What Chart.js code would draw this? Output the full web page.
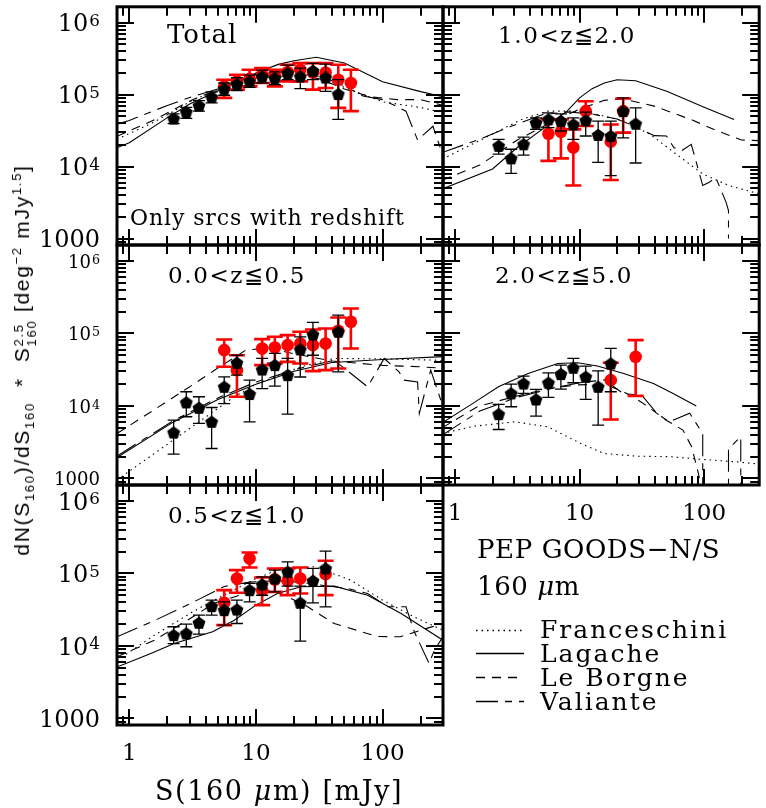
<!DOCTYPE html>
<html>
<head>
<meta charset="utf-8">
<script src="https://cdn.jsdelivr.net/npm/chart.js@4.4.1/dist/chart.umd.min.js"></script>
<style>
  body { margin: 0; background: #fff; }
  #wrap { position: relative; width: 766px; height: 808px; overflow: hidden; background: #fff; }
  #wrap canvas { position: absolute; left: 0; top: 0; }
  .t { position: absolute; white-space: nowrap; font-family: "DejaVu Serif", serif; color: #000; line-height: 1; }
  #ytitle { position: absolute; left: 24px; top: 360px; white-space: nowrap; font-family: "Liberation Sans", Arial, sans-serif;
            font-size: 21px; letter-spacing: 1.7px; line-height: 1; transform: translate(-50%, -50%) rotate(-90deg); }
  #ytitle sub, #ytitle sup { font-size: 13px; }
  .stk { display: inline-flex; flex-direction: column; font-size: 13px; line-height: 13px; vertical-align: 6px; }
</style>
</head>
<body>
<div id="wrap">
  <div class="t" style="font-size:26px;letter-spacing:1px;left:167px;top:21px">Total</div>
  <div class="t" style="font-size:23px;letter-spacing:1.6px;left:498px;top:24px">1.0&lt;z≦2.0</div>
  <div class="t" style="font-size:23px;letter-spacing:1.6px;left:168px;top:264px">0.0&lt;z≦0.5</div>
  <div class="t" style="font-size:23px;letter-spacing:1.6px;left:495px;top:264px">2.0&lt;z≦5.0</div>
  <div class="t" style="font-size:23px;letter-spacing:1.6px;left:168px;top:504px">0.5&lt;z≦1.0</div>
  <div class="t" style="font-size:22px;letter-spacing:0.9px;left:130px;top:207px">Only srcs with redshift</div>
  <div class="t" style="font-size:26px;letter-spacing:0.6px;left:477px;top:536px">PEP GOODS−N/S</div>
  <div class="t" style="font-size:26px;letter-spacing:0.6px;left:477px;top:573px">160 <i>μ</i>m</div>
  <div class="t" style="font-size:25px;letter-spacing:2px;left:540px;top:617px">Franceschini</div>
  <div class="t" style="font-size:25px;letter-spacing:2px;left:540px;top:641px">Lagache</div>
  <div class="t" style="font-size:25px;letter-spacing:2px;left:540px;top:665px">Le Borgne</div>
  <div class="t" style="font-size:25px;letter-spacing:2px;left:540px;top:689px">Valiante</div>
  <div class="t" style="font-size:27px;letter-spacing:1.6px;left:155px;top:777px">S(160 <i>μ</i>m) [mJy]</div>
  <div id="ytitle">dN(S<sub>160</sub>)/dS<sub>160</sub>&nbsp; *&nbsp; S<span class="stk"><span>2.5</span><span>160</span></span> [deg<sup>−2</sup> mJy<sup>1.5</sup>]</div>
</div>
<script>
// flux bins shared by all panels [mJy]
const fluxBins = [2.24, 2.82, 3.55, 4.47, 5.62, 7.08, 8.91, 11.2, 14.1, 17.8, 22.4, 28.2, 35.5, 44.7, 56.2];

// ---- Total ----
const totBlk   = [46600, 57400, 70300, 92500, 120500, 139600, 152100, 178200, 169000, 198200, 178200, 213800, 172600, 101600, null];
const totBlkHi = [54100, 66500, 82600, 108900, 144900, 171400, 186600, 218800, 207500, 256400, 233300, 272300, 264900, 161100, null];
const totBlkLo = [39400, 46600, 58900, 76700, 97900, 113500, 126200, 144900, 137400, 161100, 121100, 161100, 111200, 45200, null];
const totRed   = [null, null, null, null, 130300, 152800, 166300, 188800, 184800, 205600, 221300, 203300, 203300, 161100, 144900];
const totRedHi = [null, null, null, null, 161100, 188800, 221300, 233300, 221300, 259400, 273500, 273500, 273500, 259400, 221300];
const totRedLo = [null, null, null, null, 90000, 117200, 130300, 144900, 130300, 152800, 152800, 117200, 123600, 65500, 58900];

// ---- 1.0<z<=2.0 ----
const z12Blk   = [19400, 13000, 20400, 40600, 45200, 42900, 38500, 43800, 27500, 26600, 58900, 39400, null, null, null];
const z12BlkHi = [23900, 17400, 25700, 47600, 55800, 54100, 47600, 57000, 42900, 42900, 90000, 65500, null, null, null];
const z12BlkLo = [14900, 8050, 14400, 32900, 34700, 31200, 23900, 26600, 11400, 7480, 25100, 11200, null, null, null];
const z12Red   = [null, null, null, null, 28600, 30500, 18400, 58900, null, 22200, 58900, null, null, null, null];
const z12RedHi = [null, null, null, null, 45200, 45200, 32900, 80900, null, 38500, 88100, null, null, null, null];
const z12RedLo = [null, null, null, null, 12000, 13000, 5450, 36600, null, 6520, 29600, null, null, null, null];

// ---- 0.0<z<=0.5 ----
const z05Blk   = [4310, 11200, 9440, 6050, 18400, 39400, 14600, 31800, 36600, 26600, 60100, 96800, null, 105400, null];
const z05BlkHi = [6380, 15700, 13400, 9530, 25200, 50100, 22700, 45200, 53000, 45200, 90000, 141900, null, 179100, null];
const z05BlkLo = [2170, 7100, 5740, 2590, 10800, 26600, 6050, 17400, 18800, 7710, 25100, 50100, null, 29600, null];
const z05Red   = [null, null, null, null, 58900, 31200, null, 62100, 64100, 69000, 72800, 69000, 72800, 108900, 144900];
const z05RedHi = [null, null, null, null, 82600, 50100, null, 83600, 90000, 94800, 105400, 113500, 117200, 166000, 221300];
const z05RedLo = [null, null, null, null, 34700, 13400, null, 36600, 38500, 40600, 38500, 30200, 31200, 32900, 62100];

// ---- 2.0<z<=5.0 ----
const z25Blk   = [7710, 14900, 20400, 12300, 20900, 27500, 33600, 25200, 18400, 38500, null, null, null, null, null];
const z25BlkHi = [10500, 20000, 25800, 16900, 28600, 36600, 45200, 35400, 30500, 62100, null, null, null, null, null];
const z25BlkLo = [4740, 9750, 14900, 7240, 13100, 17100, 20900, 12300, 5450, 15700, null, null, null, null, null];
const z25Red   = [null, null, null, null, null, null, null, null, null, 22700, null, 47600, null, null, null];
const z25RedHi = [null, null, null, null, null, null, null, null, null, 39400, null, 80900, null, null, null];
const z25RedLo = [null, null, null, null, null, null, null, null, null, 6520, null, 13800, null, null, null];

// ---- 0.5<z<=1.0 ----
const z51Blk   = [14100, 14900, 20900, 35400, 31200, 31800, 58900, 70500, 85300, 105400, 39400, 79300, 117200, null, null];
const z51BlkHi = [18400, 20000, 26600, 42900, 40600, 42900, 72800, 90000, 111200, 144900, 66800, 117200, 203300, null, null];
const z51BlkLo = [10800, 9750, 14600, 26600, 19400, 20400, 40600, 50100, 55800, 66800, 11700, 39400, 34700, null, null];
const z51Red   = [null, null, null, null, 39400, 85300, 161100, 58900, 82600, 79300, 85300, null, 97900, null, null];
const z51RedHi = [null, null, null, null, 58900, 111200, 195000, 88100, 117200, 117200, 121100, null, 149600, null, null];
const z51RedLo = [null, null, null, null, 19400, 54100, 121100, 36600, 55800, 50200, 53000, null, 50200, null, null];

// ---- model curves (x in mJy, y in counts) ----
const totFranX = [0.8, 1.58, 3.16, 6.31, 10, 20, 31.6, 50, 100, 200, 300];
const totFranY = [24000, 41700, 83200, 141000, 178000, 200000, 178000, 126000, 79400, 66100, 56200];
const totLagX  = [0.8, 1, 2, 3, 5, 10, 15, 20, 30, 50, 100, 200, 300];
const totLagY  = [18200, 21400, 47900, 74100, 112000, 200000, 263000, 295000, 331000, 275000, 151000, 110000, 93300];
const totLebX  = [0.8, 1.58, 3.16, 6.31, 10, 20, 31.6, 50, 80, 130, 200, 300];
const totLebY  = [26300, 44700, 85100, 138000, 170000, 186000, 166000, 120000, 93300, 85100, 85100, 70800];
const totValX  = [0.8, 1, 2, 3, 5, 10, 20, 30, 50, 70, 100, 153, 189, 250, 300];
const totValY  = [38900, 43700, 70800, 91200, 120000, 191000, 214000, 191000, 132000, 95500, 85100, 58900, 23400, 36300, 14100];

const z12FranX = [0.79, 1.98, 3.42, 5.57, 8.51, 13.9, 22.6, 36.8, 60, 97.5, 158, 277];
const z12FranY = [12700, 28100, 45200, 58900, 58900, 53000, 42900, 28100, 14800, 7890, 5450, 4170];
const z12LagX  = [0.79, 2.0, 3.16, 5.01, 7.94, 10, 12.6, 15.8, 20, 28.2, 50.1, 100, 174];
const z12LagY  = [4900, 9250, 18400, 32900, 58900, 90000, 121000, 145000, 161000, 156000, 111000, 66800, 45200];
const z12LebX  = [0.79, 1.58, 3.16, 6.31, 10, 15.8, 22.4, 39.8, 79.4, 126, 200, 277];
const z12LebY  = [6460, 10500, 23400, 43700, 63100, 83200, 87100, 69200, 44700, 31600, 23400, 22900];
const z12ValX  = [0.79, 1.58, 2.82, 5.01, 7.94, 12.6, 20, 28.2, 39.8, 49.9, 57.1, 65.6, 78.9, 97.5, 110, 124, 150, 157, 157];
const z12ValY  = [15700, 24000, 36300, 52500, 57500, 53700, 45700, 35500, 26900, 26600, 18400, 16500, 20400, 5450, 6050, 7080, 3210, 2450, 1000];

const z05FranX = [0.8, 3.68, 6.76, 10, 22.6, 41.5, 100, 257, 300];
const z05FranY = [955, 6310, 13400, 20000, 34700, 45200, 44700, 42900, 41700];
const z05LagX  = [0.8, 2.24, 5.01, 10, 20, 39.8, 100, 300];
const z05LagY  = [1950, 6030, 12300, 20000, 30200, 39800, 43700, 47900];
const z05LebX  = [0.8, 1.58, 3.16, 4.68, 8.32, 12.6, 20, 39.8, 100, 200, 300];
const z05LebY  = [4170, 8910, 19500, 30900, 58900, 63100, 52500, 41700, 36300, 34700, 33100];
const z05ValX  = [0.8, 2.24, 5.01, 10, 20, 41.5, 76.2, 103, 135, 148, 189, 195, 240, 300];
const z05ValY  = [2040, 6310, 12900, 21400, 31600, 42700, 18400, 45200, 29500, 22700, 21500, 7890, 31200, 9770];

const z25FranX = [0.79, 1.41, 3.02, 5.57, 10.2, 15.7, 28.8, 53.1, 97.5, 179, 277];
const z25FranY = [4180, 5250, 6050, 5160, 3040, 2210, 2030, 2000, 1830, 1700, 1580];
const z25LagX  = [0.79, 1.37, 2.23, 3.86, 6.68, 9.64, 13.9, 22.6, 39.2, 56.4, 86.5];
const z25LagY  = [5860, 10700, 18400, 28100, 38500, 39400, 35500, 28100, 20400, 14900, 10000];
const z25LebX  = [0.79, 1.51, 3.02, 5.62, 9.55, 15.8, 22.4, 31.6, 50.1, 67.6, 79.4, 89.1, 100];
const z25LebY  = [5010, 9770, 13500, 17400, 19500, 20000, 15800, 11200, 6310, 4650, 2740, 1260, 501];
const z25ValX  = [0.79, 1.58, 3.16, 6.31, 10, 15.8, 22.4, 31.6, 41.7, 52.5, 76.6, 97.5, 97.5, 120, 157, 157, 197, 197];
const z25ValY  = [3980, 8510, 13200, 17800, 20900, 22900, 14800, 14100, 7940, 6030, 7940, 4170, 316, null, 316, 2570, 3760, 316];

const z51FranX = [0.8, 1.58, 3.16, 4.69, 10, 15.8, 28.8, 56.2, 100, 178, 300];
const z51FranY = [6310, 14100, 29500, 42900, 85100, 117000, 124000, 80900, 42900, 25100, 16500];
const z51LagX  = [0.8, 1.48, 2.26, 4.55, 6.75, 10, 14.8, 22.6, 41.5, 76.2, 140, 300];
const z51LagY  = [5130, 7890, 10800, 15700, 22700, 36600, 53000, 65500, 66800, 50100, 28100, 12000];
const z51LebX  = [0.8, 1.58, 3.16, 4.68, 11, 15.8, 25.1, 41.5, 91.2, 138, 240, 300];
const z51LebY  = [7080, 12000, 25100, 38900, 61700, 52500, 35500, 20400, 13500, 13400, 18200, 20000];
const z51ValX  = [0.8, 1.58, 3.16, 5.62, 8.91, 14.1, 22.4, 35.5, 53, 76.2, 110, 153, 178, 233, 256, 300];
const z51ValY  = [13400, 22400, 39800, 66100, 75900, 79400, 75900, 67600, 62100, 53000, 34700, 34700, 15700, 5740, 8710, 13400];

// axis ranges
const xMin = 0.8, xMaxLeft = 300, xMaxRight = 277;
const yMin = 813, yMax = 1.66e6;

// line styles of the four models
const DASH = { fran: [1.5, 4], lag: [], leb: [9, 7], val: [22, 7, 7, 7] };

// pentagon marker for the black points
function pentagon(r) {
  const c = document.createElement('canvas');
  const s = Math.ceil(2 * r + 2);
  c.width = c.height = s;
  const g = c.getContext('2d');
  g.fillStyle = '#000';
  g.beginPath();
  for (let i = 0; i < 5; i++) {
    const a = -Math.PI / 2 + i * 2 * Math.PI / 5;
    g.lineTo(s / 2 + r * Math.cos(a), s / 2 + 0.6 + r * Math.sin(a));
  }
  g.closePath();
  g.fill();
  return c;
}
const pentImg = pentagon(6.8);

function curve(xs, ys, dash) {
  return {
    data: xs.map((x, i) => ({ x: x, y: ys[i] })),
    showLine: true, pointRadius: 0, borderColor: '#000', borderWidth: 1.1,
    borderDash: dash, spanGaps: false, order: 2
  };
}

function points(vals, hi, lo, red) {
  return {
    data: fluxBins.map((x, i) => ({ x: x, y: vals[i] })),
    hi: hi, lo: lo,
    barColor: red ? '#ff0000' : '#000', barWidth: red ? 2.6 : 1.3, cap: red ? 8 : 6,
    showLine: false,
    pointStyle: red ? 'circle' : pentImg,
    pointRadius: red ? 6.3 : 6.8,
    backgroundColor: red ? '#ff0000' : '#000', borderWidth: 0,
    order: red ? 1 : 0
  };
}

// error bars, drawn just under their own markers
const errBars = {
  id: 'errBars',
  beforeDatasetDraw(chart, args) {
    const ds = chart.data.datasets[args.index];
    if (!ds.hi) return;
    const ctx = chart.ctx, x = chart.scales.x, y = chart.scales.y;
    ctx.save();
    ctx.strokeStyle = ds.barColor;
    ctx.lineWidth = ds.barWidth;
    ds.data.forEach((p, i) => {
      if (p.y == null) return;
      const px = x.getPixelForValue(p.x);
      const top = y.getPixelForValue(ds.hi[i]);
      const bot = y.getPixelForValue(ds.lo[i]);
      ctx.beginPath();
      ctx.moveTo(px, top); ctx.lineTo(px, bot);
      ctx.moveTo(px - ds.cap, top); ctx.lineTo(px + ds.cap, top);
      ctx.moveTo(px - ds.cap, bot); ctx.lineTo(px + ds.cap, bot);
      ctx.stroke();
    });
    ctx.restore();
  }
};

// thick frame, inward ticks on all four sides, tick labels
const frame = {
  id: 'frame',
  afterDraw(chart, args, o) {
    const ctx = chart.ctx, a = chart.chartArea, x = chart.scales.x, y = chart.scales.y;
    ctx.save();
    ctx.strokeStyle = '#000';
    ctx.lineWidth = 2;
    ctx.beginPath();
    for (let e = 2; e <= 6; e++) {
      for (let m = 1; m <= 9; m++) {
        const v = m * Math.pow(10, e);
        if (v < yMin || v > yMax) continue;
        const py = Math.round(y.getPixelForValue(v));
        const len = m === 1 ? 17 : 9;
        ctx.moveTo(a.left, py); ctx.lineTo(a.left + len, py);
        ctx.moveTo(a.right, py); ctx.lineTo(a.right - len, py);
      }
    }
    for (let e = -1; e <= 2; e++) {
      for (let m = 1; m <= 9; m++) {
        const v = m * Math.pow(10, e);
        if (v < x.min * 0.999 || v > x.max) continue;
        const px = Math.round(x.getPixelForValue(v));
        const len = m === 1 ? 16 : 9;
        ctx.moveTo(px, a.bottom); ctx.lineTo(px, a.bottom - len);
        ctx.moveTo(px, a.top); ctx.lineTo(px, a.top + len);
      }
    }
    ctx.stroke();
    ctx.lineWidth = 3;
    ctx.strokeRect(a.left, a.top, a.right - a.left, a.bottom - a.top);

    ctx.fillStyle = '#000';
    if (o.yLabels) {
      [1000, 1e4, 1e5, 1e6].forEach(v => {
        const py = y.getPixelForValue(v);
        const fs = o.yFont, cap = 0.73 * fs;
        ctx.save();
        ctx.translate(a.left - 17, py);
        ctx.scale(o.yScaleX, 1);
        ctx.textAlign = 'right';
        ctx.textBaseline = 'alphabetic';
        if (v === 1000) {
          ctx.font = fs + 'px "DejaVu Serif"';
          ctx.fillText('1000', 0, cap / 2);
        } else {
          const ex = String(Math.round(Math.log10(v)));
          const efs = fs * 0.7;
          ctx.font = efs + 'px "DejaVu Serif"';
          const we = ctx.measureText(ex).width;
          ctx.fillText(ex, 0, -cap / 2 + 0.73 * efs);
          ctx.font = fs + 'px "DejaVu Serif"';
          ctx.fillText('10', -we - 1, cap / 2);
        }
        ctx.restore();
      });
    }
    if (o.xLabels) {
      ctx.font = '23px "DejaVu Serif"';
      ctx.textAlign = 'center';
      ctx.textBaseline = 'alphabetic';
      [[1, '1'], [10, '10'], [100, '100']].forEach(([v, s]) => {
        ctx.fillText(s, x.getPixelForValue(v), a.bottom + 35);
      });
    }
    ctx.restore();
  }
};

// legend line samples in the empty lower-right cell
const legendSamples = {
  id: 'legendSamples',
  afterDraw(chart, args, o) {
    if (!o.show) return;
    const ctx = chart.ctx;
    ctx.save();
    ctx.strokeStyle = '#000';
    ctx.lineWidth = 1.3;
    [[630, DASH.fran], [653, DASH.lag], [677, DASH.leb], [701, DASH.val]].forEach(([yy, d]) => {
      ctx.setLineDash(d);
      ctx.beginPath();
      ctx.moveTo(476, yy + 0.5);
      ctx.lineTo(524, yy + 0.5);
      ctx.stroke();
    });
    ctx.restore();
  }
};

function panel(box, xMax, curves, black, red, opts) {
  const cv = document.createElement('canvas');
  cv.width = 766; cv.height = 808;
  cv.style.width = '766px'; cv.style.height = '808px';
  document.getElementById('wrap').insertBefore(cv, document.getElementById('wrap').firstChild);
  new Chart(cv, {
    type: 'scatter',
    data: {
      datasets: [
        points(black[0], black[1], black[2], false),
        points(red[0], red[1], red[2], true),
        curve(curves[0][0], curves[0][1], DASH.fran),
        curve(curves[1][0], curves[1][1], DASH.lag),
        curve(curves[2][0], curves[2][1], DASH.leb),
        curve(curves[3][0], curves[3][1], DASH.val)
      ]
    },
    options: {
      responsive: false,
      animation: false,
      devicePixelRatio: 1,
      events: [],
      layout: { padding: { left: box[0], top: box[1], right: 766 - box[2], bottom: 808 - box[3] } },
      scales: {
        x: { type: 'logarithmic', min: xMin, max: xMax, display: false },
        y: { type: 'logarithmic', min: yMin, max: yMax, display: false }
      },
      plugins: {
        legend: { display: false },
        tooltip: { enabled: false },
        frame: opts,
        legendSamples: { show: !!opts.samples }
      }
    },
    plugins: [errBars, frame, legendSamples]
  });
}

panel([117, 5, 443, 245], xMaxLeft,
  [[totFranX, totFranY], [totLagX, totLagY], [totLebX, totLebY], [totValX, totValY]],
  [totBlk, totBlkHi, totBlkLo], [totRed, totRedHi, totRedLo],
  { yLabels: true, yFont: 24, yScaleX: 1 });

panel([443, 5, 764, 245], xMaxRight,
  [[z12FranX, z12FranY], [z12LagX, z12LagY], [z12LebX, z12LebY], [z12ValX, z12ValY]],
  [z12Blk, z12BlkHi, z12BlkLo], [z12Red, z12RedHi, z12RedLo],
  {});

panel([117, 245, 443, 485], xMaxLeft,
  [[z05FranX, z05FranY], [z05LagX, z05LagY], [z05LebX, z05LebY], [z05ValX, z05ValY]],
  [z05Blk, z05BlkHi, z05BlkLo], [z05Red, z05RedHi, z05RedLo],
  { yLabels: true, yFont: 19, yScaleX: 0.95 });

panel([443, 245, 764, 485], xMaxRight,
  [[z25FranX, z25FranY], [z25LagX, z25LagY], [z25LebX, z25LebY], [z25ValX, z25ValY]],
  [z25Blk, z25BlkHi, z25BlkLo], [z25Red, z25RedHi, z25RedLo],
  { xLabels: true });

panel([117, 485, 443, 725], xMaxLeft,
  [[z51FranX, z51FranY], [z51LagX, z51LagY], [z51LebX, z51LebY], [z51ValX, z51ValY]],
  [z51Blk, z51BlkHi, z51BlkLo], [z51Red, z51RedHi, z51RedLo],
  { yLabels: true, yFont: 24, yScaleX: 1, xLabels: true, samples: true });
</script>
</body>
</html>
